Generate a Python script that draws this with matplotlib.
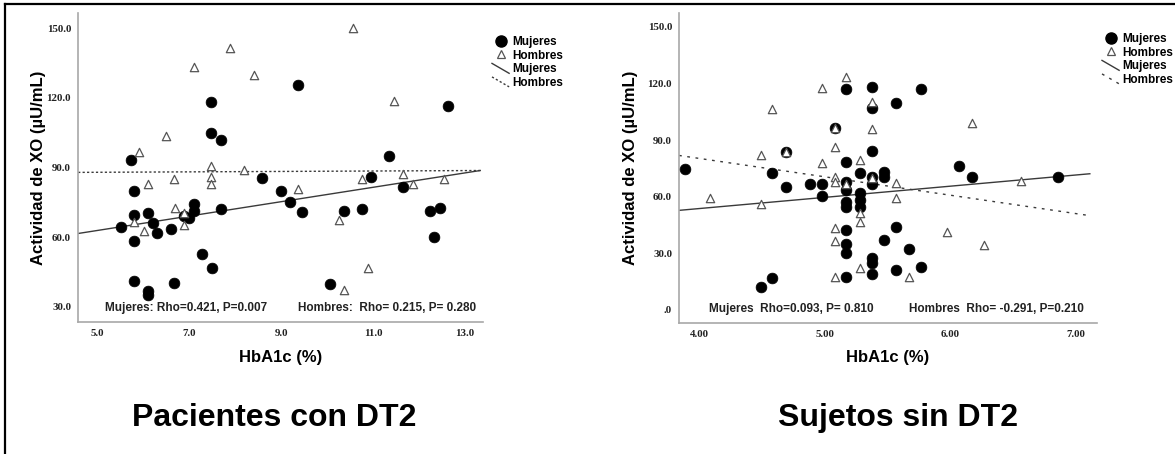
import matplotlib
matplotlib.use("Agg")
import matplotlib.pyplot as plt
from matplotlib.lines import Line2D
from matplotlib.legend_handler import HandlerBase

# ---------------- data ----------------
# Pacientes con DT2
muj_dt2_x = [5.52, 5.73, 5.81, 5.81, 5.81, 5.81, 6.10, 6.21, 6.10, 6.10, 6.31, 6.61, 6.68,
             6.90, 7.11, 7.11, 7.01, 7.29, 7.48, 7.48, 7.69, 7.50, 7.70, 8.59, 9.00, 9.19,
             9.37, 9.45, 10.06, 10.37, 10.75, 10.95, 11.35, 11.66, 12.24, 12.46, 12.33, 12.64]
muj_dt2_y = [64.4, 93.3, 79.9, 69.4, 58.4, 41.3, 70.6, 66.3, 37.0, 35.0, 62.0, 63.4, 40.3,
             69.1, 74.1, 71.3, 68.4, 52.7, 118.0, 104.9, 101.7, 46.6, 72.3, 85.6, 79.7, 75.3,
             125.6, 70.9, 39.9, 71.3, 72.3, 85.8, 95.1, 81.7, 71.3, 72.4, 60.3, 116.3]
hom_dt2_x = [5.92, 5.81, 6.02, 6.10, 6.50, 6.68, 6.70, 6.90, 6.90, 7.10, 7.48, 7.48, 7.48,
             7.90, 8.19, 8.41, 9.37, 10.57, 11.46, 10.75, 11.66, 11.86, 12.54, 10.26, 10.88, 10.37]
hom_dt2_y = [96.6, 66.6, 62.7, 82.7, 103.4, 84.9, 72.7, 70.6, 65.1, 133.1, 90.6, 85.8, 83.1,
             141.3, 89.0, 129.9, 80.6, 149.9, 118.7, 84.9, 87.3, 83.0, 84.9, 67.3, 46.6, 37.3]
fit_dt2_x = [4.59, 13.33]
fit_dt2_muj = [61.6, 88.7]
fit_dt2_hom = [87.9, 88.7]

# Sujetos sin DT2
muj_sin_x = [3.89, 4.49, 4.58, 4.58, 4.69, 4.69, 4.88, 4.98, 4.98, 5.08,
             5.17, 5.17, 5.17, 5.17, 5.17, 5.17, 5.17, 5.17, 5.17, 5.17,
             5.28, 5.28, 5.28, 5.28,
             5.38, 5.38, 5.38, 5.38, 5.38, 5.38, 5.38, 5.38,
             5.47, 5.47, 5.47, 5.57, 5.57, 5.57,
             5.67, 5.77, 5.77, 6.07, 6.17, 6.86]
muj_sin_y = [74.6, 12.0, 17.1, 72.7, 65.0, 83.6, 66.8, 66.8, 60.4, 96.6,
             116.9, 78.3, 68.0, 63.6, 57.4, 54.8, 42.4, 34.8, 30.4, 17.3,
             72.4, 62.2, 58.3, 54.4,
             118.3, 106.9, 84.3, 70.6, 66.6, 27.4, 24.7, 18.9,
             73.3, 70.6, 37.1, 109.9, 44.1, 21.2,
             32.1, 116.9, 23.0, 76.3, 70.3, 70.3]
hom_sin_x = [4.09, 4.49, 4.49, 4.58, 4.69, 4.98, 4.98, 5.08, 5.08, 5.08, 5.08, 5.08, 5.08, 5.08,
             5.17, 5.17, 5.28, 5.28, 5.28, 5.28, 5.38, 5.38, 5.38, 5.57, 5.57, 5.67, 5.97, 6.17,
             6.27, 6.56]
hom_sin_y = [59.2, 56.2, 82.1, 106.3, 83.6, 117.5, 78.1, 96.6, 86.6, 70.6, 68.0, 43.3, 36.7, 17.6,
             123.3, 66.6, 79.5, 51.2, 46.8, 22.1, 110.4, 95.8, 69.8, 67.1, 59.2, 17.6, 41.5, 99.3,
             34.4, 68.4]
fit_sin_x = [3.84, 7.11]
fit_sin_muj = [52.8, 72.2]
fit_sin_hom = [81.9, 50.0]

dt2_xticks = [5.0, 7.0, 9.0, 11.0, 13.0]
dt2_yticks = [30.0, 60.0, 90.0, 120.0, 150.0]
sin_xticks = [4.0, 5.0, 6.0, 7.0]
sin_yticks = [0.0, 30.0, 60.0, 90.0, 120.0, 150.0]
dt2_xticklabels = ["5.0", "7.0", "9.0", "11.0", "13.0"]
dt2_yticklabels = ["30.0", "60.0", "90.0", "120.0", "150.0"]
sin_xticklabels = ["4.00", "5.00", "6.00", "7.00"]
sin_yticklabels = [".0", "30.0", "60.0", "90.0", "120.0", "150.0"]

# ---------------- style ----------------
SANS = "Liberation Sans"
SERIF = "Liberation Serif"
LINE_C = "#3a3a3a"
SPINE_C = "#a8a8a8"


class DiagLine(HandlerBase):
    def create_artists(self, legend, orig_handle, xdescent, ydescent, width, height,
                       fontsize, trans):
        l = Line2D([0, 1], [0, 1])
        l.update_from(orig_handle)
        l.set_data([-xdescent, -xdescent + width], [-ydescent + height * 1.05, -ydescent - height * 0.15])
        l.set_transform(trans)
        return [l]


W, H = 1175, 454
fig = plt.figure(figsize=(W / 100, H / 100), dpi=100)

ax1 = fig.add_axes([78 / W, 1 - 322 / H, 405 / W, 309 / H])
ax2 = fig.add_axes([679 / W, 1 - 323 / H, 418 / W, 310 / H])


def draw(ax, mx, my, hx, hy, fx, fm, fh, xlim, ylim, xt, xtl, yt, ytl, hom_dash, notes,
         ylab_x, xlab_y, leg_anchor):
    ax.plot(fx, fm, color=LINE_C, lw=1.0, zorder=2)
    ax.plot(fx, fh, color=LINE_C, lw=1.0, linestyle=hom_dash, zorder=2)
    ax.scatter(mx, my, s=60, marker="o", color="black", edgecolors="black", linewidths=0.5, zorder=3)
    ax.scatter(hx, hy, s=36, marker="^", facecolors="white", edgecolors="#555555",
               linewidths=0.9, zorder=4)
    ax.set_xlim(*xlim)
    ax.set_ylim(*ylim)
    ax.set_xticks(xt)
    ax.set_xticklabels(xtl)
    ax.set_yticks(yt)
    ax.set_yticklabels(ytl)
    for lab in ax.get_xticklabels() + ax.get_yticklabels():
        lab.set_fontfamily(SERIF)
        lab.set_fontweight("bold")
        lab.set_fontsize(7.8)
        lab.set_color("#222222")
    ax.tick_params(axis="both", length=0)
    ax.tick_params(axis="x", pad=5)
    ax.tick_params(axis="y", pad=5)
    for s in ("top", "right"):
        ax.spines[s].set_visible(False)
    for s in ("left", "bottom"):
        ax.spines[s].set_color(SPINE_C)
        ax.spines[s].set_linewidth(1.2)
    ax.set_ylabel("Actividad de XO (µU/mL)", fontfamily=SANS, fontweight="bold", fontsize=12)
    ax.set_xlabel("HbA1c (%)", fontfamily=SANS, fontweight="bold", fontsize=12)
    ax.yaxis.set_label_coords(ylab_x, 0.5)
    ax.xaxis.set_label_coords(0.5, xlab_y)
    for (tx, txt) in notes:
        ax.text(tx, 0.045, txt, transform=ax.transAxes, ha="center", va="center",
                fontfamily=SANS, fontweight="bold", fontsize=8.5, color="#222222")
    handles = [
        Line2D([], [], marker="o", linestyle="none", color="black", markersize=8),
        Line2D([], [], marker="^", linestyle="none", markerfacecolor="white",
               markeredgecolor="#555555", markersize=6, markeredgewidth=0.9),
        Line2D([], [], color=LINE_C, lw=1.0),
        Line2D([], [], color=LINE_C, lw=1.0, linestyle=hom_dash),
    ]
    labels = ["Mujeres", "Hombres", "Mujeres", "Hombres"]
    leg = fig.legend(handles, labels, loc="upper left", bbox_to_anchor=leg_anchor,
                     bbox_transform=fig.transFigure, frameon=False, borderpad=0,
                     borderaxespad=0, handlelength=1.45, handletextpad=0.25,
                     labelspacing=0.13, prop={"family": SANS, "weight": "bold", "size": 8.5},
                     handler_map={handles[2]: DiagLine(), handles[3]: DiagLine()})
    return leg


draw(ax1, muj_dt2_x, muj_dt2_y, hom_dt2_x, hom_dt2_y, fit_dt2_x, fit_dt2_muj, fit_dt2_hom,
     (4.587, 13.39), (23.5, 156.5), dt2_xticks, dt2_xticklabels, dt2_yticks, dt2_yticklabels,
     (0, (1.6, 1.6)),
     [(0.266, "Mujeres: Rho=0.421, P=0.007"), (0.764, "Hombres:  Rho= 0.215, P= 0.280")],
     -0.079, -0.09, (492 / W, 1 - 36 / H))

draw(ax2, muj_sin_x, muj_sin_y, hom_sin_x, hom_sin_y, fit_sin_x, fit_sin_muj, fit_sin_hom,
     (3.84, 7.167), (-6.9, 157.4), sin_xticks, sin_xticklabels, sin_yticks, sin_yticklabels,
     (0, (2.0, 4.0)),
     [(0.268, "Mujeres  Rho=0.093, P= 0.810"), (0.76, "Hombres  Rho= -0.291, P=0.210")],
     -0.098, -0.087, (1102 / W, 1 - 33 / H))

fig.text(274 / W, 1 - 418 / H, "Pacientes con DT2", ha="center", va="center",
         fontfamily=SANS, fontweight="bold", fontsize=23)
fig.text(898 / W, 1 - 418 / H, "Sujetos sin DT2", ha="center", va="center",
         fontfamily=SANS, fontweight="bold", fontsize=23)

# outer frame (top and left edges visible in the reference)
fig.add_artist(Line2D([5 / W, 1.0], [1 - 4 / H, 1 - 4 / H], transform=fig.transFigure,
                      color="black", lw=1.6))
fig.add_artist(Line2D([5 / W, 5 / W], [0.0, 1 - 4 / H], transform=fig.transFigure,
                      color="black", lw=1.6))

fig.savefig("out.png", dpi=100)
